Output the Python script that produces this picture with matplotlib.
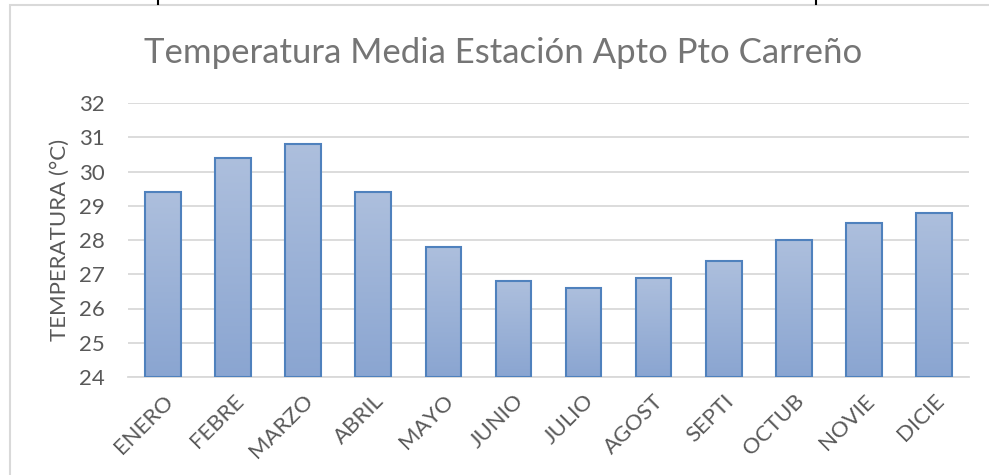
import numpy as np
import matplotlib
matplotlib.use("Agg")
import matplotlib.pyplot as plt
from matplotlib.patches import Rectangle
from matplotlib.lines import Line2D
from matplotlib.colors import LinearSegmentedColormap

title = "Temperatura Media Estación Apto Pto Carreño"
ylabel = "TEMPERATURA (°C)"
months = ["ENERO", "FEBRE", "MARZO", "ABRIL", "MAYO", "JUNIO",
          "JULIO", "AGOST", "SEPTI", "OCTUB", "NOVIE", "DICIE"]
temps = [29.4, 30.4, 30.8, 29.4, 27.8, 26.8, 26.6, 26.9, 27.4, 28.0, 28.5, 28.8]
yticks = [24, 25, 26, 27, 28, 29, 30, 31, 32]

plt.rcParams['font.family'] = ['Lato', 'DejaVu Sans']
txt = '#595959'
W, H = 989, 475
fig = plt.figure(figsize=(W / 100, H / 100), dpi=100)

# chart border
fig.add_artist(Rectangle((10 / W, -0.1), 1.2, 1 - 5 / H + 0.1, transform=fig.transFigure,
                         fill=False, edgecolor='#d9d9d9', linewidth=1.5))
# cut document lines at the top
for xp in (158, 816):
    fig.add_artist(Line2D([xp / W, xp / W], [1, 1 - 4 / H], transform=fig.transFigure,
                          color='black', linewidth=1.5))

ax = fig.add_axes([128 / W, 1 - 377 / H, (969 - 128) / W, (377 - 103) / H])
x = np.arange(len(months))

grad = np.linspace(0, 1, 256).reshape(-1, 1)
cmap = LinearSegmentedColormap.from_list('g', ['#8aa5d1', '#adbfdd'])
bars = ax.bar(x, np.array(temps) - yticks[0], bottom=yticks[0], width=0.51,
              color='none', edgecolor='#4f81bd', linewidth=1.5, zorder=3)
for b in bars:
    x0, y0 = b.get_x(), b.get_y()
    w, h = b.get_width(), b.get_height()
    im = ax.imshow(grad, extent=(x0, x0 + w, y0, y0 + h), origin='lower',
                   cmap=cmap, aspect='auto', zorder=2)
    im.set_clip_path(b)
ax.set_xlim(-0.5, len(months) - 0.5)
ax.set_ylim(yticks[0], yticks[-1])

ax.set_yticks(yticks)
ax.set_xticks(x)
ax.set_xticklabels(months, rotation=45, ha='right', rotation_mode='anchor',
                   fontsize=16, color=txt)
ax.tick_params(axis='y', length=0, pad=17, labelsize=16, labelcolor=txt)
ax.tick_params(axis='x', length=0, pad=10)
ax.grid(axis='y', color='#d9d9d9', linewidth=1.3, zorder=0)
ax.set_axisbelow(True)
for s in ('left', 'right', 'top'):
    ax.spines[s].set_visible(False)
ax.spines['bottom'].set_color('#d9d9d9')
ax.spines['bottom'].set_linewidth(1.3)

ax.set_ylabel(ylabel, fontsize=16, color=txt, labelpad=6)
fig.text(503 / W, 1 - 53 / H, title, ha='center', va='center', fontsize=25, color='#757575')

fig.savefig('out.png', dpi=100)
